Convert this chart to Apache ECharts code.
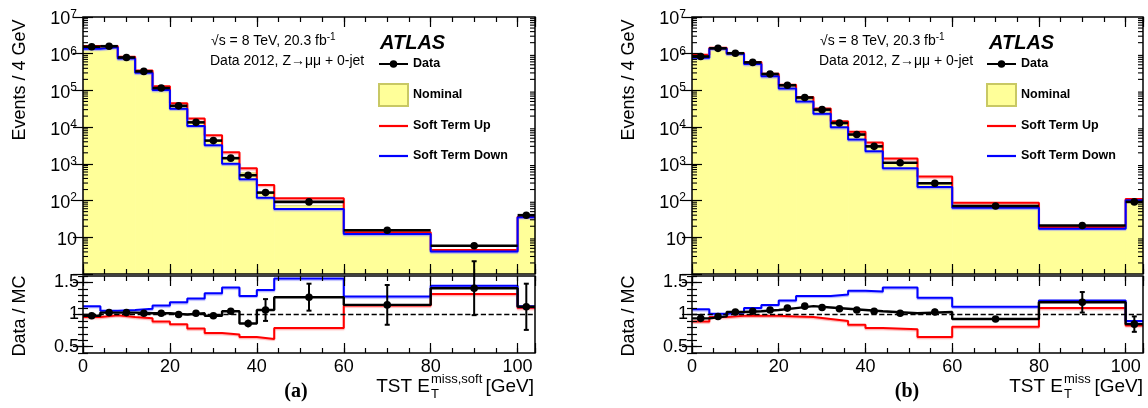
<!DOCTYPE html>
<html><head><meta charset="utf-8">
<script src="https://cdn.jsdelivr.net/npm/echarts@6/dist/echarts.min.js"></script>
<style>html,body{margin:0;padding:0;background:#fff}#c{width:1148px;height:408px}</style>
</head><body><div id="c"></div>
<script>
// ---------- data ----------
const edgesA = [0,4,8,12,16,20,24,28,32,36,40,44,60,80,100,104];
const dataA = [1.55e6,1.6e6,7.9e5,3.3e5,1.16e5,3.8e4,1.35e4,4.3e3,1.43e3,490,165,92,15.6,5.9,40];
const nominalA = [1.58e6,1.55e6,7.67e5,3.24e5,1.14e5,3.8e4,1.32e4,4.39e3,1.36e3,570,154,72.4,13.6,4.18,35.7];
const upA = [1.61e6,1.62e6,8.23e5,3.51e5,1.30e5,4.47e4,1.73e4,6.06e3,2.07e3,754,266,116,13.7,4.47,36.4];
const downA = [1.37e6,1.51e6,7.38e5,3.03e5,1.02e5,3.19e4,1.08e4,3.23e3,1.01e3,380,120,59,12.2,4.07,35.4];
const ratioNomA = [0.98,1.03,1.03,1.02,1.02,1.0,1.02,0.98,1.05,0.86,1.07,1.27,1.15,1.41,1.12];
const ratioUpA = [0.96,0.99,0.96,0.94,0.89,0.85,0.78,0.71,0.69,0.65,0.62,0.79,1.14,1.32,1.10];
const ratioDownA = [1.13,1.06,1.07,1.09,1.14,1.19,1.25,1.33,1.42,1.29,1.38,1.56,1.28,1.45,1.13];
const ratioErrA = [0.005,0.005,0.005,0.005,0.007,0.01,0.015,0.025,0.05,0.06,0.17,0.21,0.31,0.42,0.36];

const edgesB = [0,4,8,12,16,20,24,28,32,36,40,44,52,60,80,100,104];
const dataB = [8.4e5,1.4e6,1.03e6,5.8e5,2.8e5,1.38e5,6.4e4,3.0e4,1.3e4,6.3e3,3.0e3,1.07e3,295,71,21,92];
const nominalB = [8.94e5,1.44e6,9.9e5,5.52e5,2.62e5,1.25e5,5.66e4,2.70e4,1.19e4,5.89e3,2.86e3,1.05e3,284,76.3,17.6,108];
const upB = [9.44e5,1.46e6,1.05e6,5.92e5,2.86e5,1.42e5,6.67e4,3.23e4,1.44e4,7.5e3,3.8e3,1.39e3,454,87.7,19.1,111];
const downB = [7.78e5,1.39e6,1.0e6,5.27e5,2.43e5,1.13e5,4.96e4,2.33e4,9.92e3,4.6e3,2.2e3,754,234,63.4,17.2,102];
const ratioNomB = [0.94,0.97,1.04,1.05,1.07,1.10,1.13,1.11,1.09,1.07,1.05,1.02,1.04,0.93,1.19,0.85];
const ratioUpB = [0.89,0.96,0.98,0.98,0.98,0.97,0.96,0.93,0.90,0.84,0.79,0.77,0.65,0.81,1.10,0.83];
const ratioDownB = [1.08,1.01,1.03,1.10,1.15,1.22,1.29,1.29,1.31,1.37,1.36,1.42,1.26,1.12,1.22,0.90];
const ratioErrB = [0.004,0.004,0.004,0.004,0.005,0.006,0.008,0.01,0.012,0.015,0.02,0.02,0.05,0.04,0.16,0.12];

const xTickLabels = [0,20,40,60,80,100];
const ratioTickLabels = [0.5,1,1.5];
const logDecades = [0,1,2,3,4,5,6,7];

// ---------- helpers ----------
const FONT = 'Liberation Sans';
const xAxis = [], yAxis = [], series = [], grid = [];
const tickLS = {color:'#000', width:1.2};

function stepPoints(edges, vals){
  const pts = vals.map((v,i)=>[edges[i], v]);
  pts.push([edges[edges.length-1], vals[vals.length-1]]);
  return pts;
}
function addGrid(left, top, width, height){
  grid.push({left, top, width, height, show:true, borderColor:'#000', borderWidth:1.5, backgroundColor:'transparent', z:8});
  return grid.length-1;
}
function addX(g, showLabel){
  const base = xAxis.length;
  const mk = (pos, interval, len, label) => ({
    type:'value', gridIndex:g, min:0, max:104, interval, position:pos, z:9,
    axisLine:{show:false}, splitLine:{show:false},
    axisTick:{show:true, inside:true, length:len, lineStyle:tickLS},
    axisLabel: label ? {show:true, fontSize:18, fontFamily:FONT, color:'#000', margin:5,
      formatter: v => xTickLabels.indexOf(v) >= 0 ? String(v) : ''} : {show:false}
  });
  xAxis.push(mk('bottom',20,10,showLabel), mk('bottom',5,5,false), mk('top',20,10,false), mk('top',5,5,false));
  return base;
}
function addLogY(g){
  const base = yAxis.length;
  const mk = (pos, label) => ({
    type:'log', logBase:10, gridIndex:g, min:1, max:1e7, splitNumber:7, position:pos, z:9,
    axisLine:{show:false}, splitLine:{show:false},
    axisTick:{show:true, inside:true, length:10, lineStyle:tickLS},
    axisLabel: label ? {show:true, fontSize:18, fontFamily:FONT, color:'#000', margin:6, lineHeight:22, padding:[5,0,0,0],
      formatter: v => { const e = Math.round(Math.log10(v)); if (logDecades.indexOf(e) < 0 || e === 0) return ''; if (e === 1) return '10'; return '10{s|' + e + '}'; },
      rich:{s:{fontSize:12, fontFamily:FONT, color:'#000', verticalAlign:'top', lineHeight:12}}
    } : {show:false}
  });
  yAxis.push(mk('left',true), mk('right',false));
  return base;
}
function addRatioY(g){
  const base = yAxis.length;
  const mk = (pos, major, label) => ({
    type:'value', gridIndex:g, min:0.4, max:1.6, interval:0.1, position:pos, z:9,
    axisLine:{show:false}, splitLine:{show:false},
    axisTick: major ? {show:true, inside:true, length:10, customValues:ratioTickLabels, lineStyle:tickLS}
                    : {show:true, inside:true, length:5, lineStyle:tickLS},
    axisLabel: label ? {show:true, customValues:ratioTickLabels, fontSize:18, fontFamily:FONT, color:'#000', margin:4,
      formatter: v => { const r = Math.round(v*100)/100; return ratioTickLabels.indexOf(r) >= 0 ? String(r) : ''; }} : {show:false}
  });
  yAxis.push(mk('left',true,true), mk('left',false,false), mk('right',true,false), mk('right',false,false));
  return base;
}
const logMinor = [];
for (let e = 0; e < 7; e++) for (let k = 2; k <= 9; k++) logMinor.push(k*Math.pow(10,e));

function panel(P, left, width){
  const gT = addGrid(left, 17, width, 257);
  const gR = addGrid(left, 276, width, 77);
  const xT = addX(gT, false), yT = addLogY(gT);
  const xR = addX(gR, true), yR = addRatioY(gR);
  const binRows = vals => vals.map((v,i)=>[P.edges[i], P.edges[i+1], v]);

  // nominal filled histogram
  series.push({type:'custom', name:'Nominal', xAxisIndex:xT, yAxisIndex:yT, z:2, silent:true,
    itemStyle:{color:'#ffff99'}, data: binRows(P.nominal), encode:{x:[0,1], y:2},
    renderItem:(params, api) => {
      const p0 = api.coord([api.value(0), api.value(2)]);
      const p1 = api.coord([api.value(1), 1]);
      return {type:'rect', shape:{x:p0[0], y:p0[1], width:p1[0]-p0[0]+0.6, height:p1[1]-p0[1]}, style:{fill:'#ffff99'}};
    }});
  series.push({type:'line', name:'Nominal edge', xAxisIndex:xT, yAxisIndex:yT, z:3, step:'end', symbol:'none', silent:true,
    data: stepPoints(P.edges, P.nominal), lineStyle:{color:'#d2d27a', width:1}});
  series.push({type:'line', name:'Soft Term Up', xAxisIndex:xT, yAxisIndex:yT, z:4, step:'end', symbol:'none', silent:true,
    data: stepPoints(P.edges, P.up), itemStyle:{color:'#ff0000'},
    lineStyle:{color:'#ff0000', width:2, shadowColor:'rgba(255,140,140,0.7)', shadowBlur:1, shadowOffsetY:1.2}});
  series.push({type:'line', name:'Soft Term Down', xAxisIndex:xT, yAxisIndex:yT, z:4, step:'end', symbol:'none', silent:true,
    data: stepPoints(P.edges, P.down), itemStyle:{color:'#0000ff'},
    lineStyle:{color:'#0000ff', width:2, shadowColor:'rgba(140,140,255,0.7)', shadowBlur:1, shadowOffsetY:1.2}});
  series.push({type:'custom', name:'Data', xAxisIndex:xT, yAxisIndex:yT, z:5, silent:true, itemStyle:{color:'#000'},
    data: binRows(P.data), encode:{x:[0,1], y:2},
    renderItem:(params, api) => {
      const a = api.coord([api.value(0), api.value(2)]), b = api.coord([api.value(1), api.value(2)]);
      return {type:'group', children:[
        {type:'line', shape:{x1:a[0], y1:a[1], x2:b[0], y2:b[1]}, style:{stroke:'#000', lineWidth:2.6}},
        {type:'circle', shape:{cx:(a[0]+b[0])/2, cy:a[1], r:3.8}, style:{fill:'#000'}}
      ]};
    }});
  series.push({type:'custom', name:'log minor ticks', xAxisIndex:xT, yAxisIndex:yT, z:10, silent:true,
    data: logMinor.map(v=>[0, v]), encode:{x:0, y:1},
    renderItem:(params, api) => {
      const y = api.coord([0, api.value(1)])[1];
      const cs = params.coordSys;
      return {type:'group', children:[
        {type:'line', shape:{x1:cs.x, y1:y, x2:cs.x+5, y2:y}, style:{stroke:'#000', lineWidth:1.1}},
        {type:'line', shape:{x1:cs.x+cs.width-5, y1:y, x2:cs.x+cs.width, y2:y}, style:{stroke:'#000', lineWidth:1.1}}
      ]};
    }});

  // ratio panel
  series.push({type:'line', name:'Up / ratio', xAxisIndex:xR, yAxisIndex:yR, z:3, step:'end', symbol:'none', silent:true,
    data: stepPoints(P.edges, P.rUp),
    lineStyle:{color:'#ff0000', width:2, shadowColor:'rgba(255,140,140,0.7)', shadowBlur:1, shadowOffsetY:1.2}});
  series.push({type:'line', name:'Down / ratio', xAxisIndex:xR, yAxisIndex:yR, z:3, step:'end', symbol:'none', silent:true,
    data: stepPoints(P.edges, P.rDown),
    lineStyle:{color:'#0000ff', width:2, shadowColor:'rgba(140,140,255,0.7)', shadowBlur:1, shadowOffsetY:1.2}});
  series.push({type:'line', name:'Data / MC', xAxisIndex:xR, yAxisIndex:yR, z:4, step:'end', symbol:'none', silent:true,
    data: stepPoints(P.edges, P.rNom), lineStyle:{color:'#000', width:2.4},
    markLine:{silent:true, symbol:['none','none'], label:{show:false}, data:[{yAxis:1}],
      lineStyle:{color:'#000', type:'dashed', width:1.3}}});
  series.push({type:'custom', name:'Data / MC points', xAxisIndex:xR, yAxisIndex:yR, z:5, silent:true,
    data: P.rNom.map((r,i)=>[P.edges[i], P.edges[i+1], r, P.rErr[i]]), encode:{x:[0,1], y:2},
    renderItem:(params, api) => {
      const c = (api.value(0)+api.value(1))/2, r = api.value(2), e = api.value(3);
      const p = api.coord([c, r]), t = api.coord([c, r+e]), b = api.coord([c, r-e]);
      const ch = [{type:'line', shape:{x1:p[0], y1:t[1], x2:p[0], y2:b[1]}, style:{stroke:'#000', lineWidth:2}}];
      if (b[1]-t[1] > 8) {
        ch.push({type:'line', shape:{x1:p[0]-2.5, y1:t[1], x2:p[0]+2.5, y2:t[1]}, style:{stroke:'#000', lineWidth:2}});
        ch.push({type:'line', shape:{x1:p[0]-2.5, y1:b[1], x2:p[0]+2.5, y2:b[1]}, style:{stroke:'#000', lineWidth:2}});
      }
      ch.push({type:'circle', shape:{cx:p[0], cy:p[1], r:3.8}, style:{fill:'#000'}});
      return {type:'group', children:ch};
    }});
}

panel({edges:edgesA, data:dataA, nominal:nominalA, up:upA, down:downA, rNom:ratioNomA, rUp:ratioUpA, rDown:ratioDownA, rErr:ratioErrA}, 83, 452);
panel({edges:edgesB, data:dataB, nominal:nominalB, up:upB, down:downB, rNom:ratioNomB, rUp:ratioUpB, rDown:ratioDownB, rErr:ratioErrB}, 692, 451);

const lineIcon = 'path://M0,0h29v2.2h-29z';
const dataIcon = 'path://M0,3.2h28v1.8h-28zM10.4,4.1a3.6,3.6 0 1,1 7.2,0a3.6,3.6 0 1,1 -7.2,0z';
function legendFor(left){
  return {left, top:53, orient:'vertical', itemWidth:29, itemHeight:22, itemGap:8, selectedMode:false, padding:0,
    textStyle:{fontSize:12.5, fontWeight:'bold', fontFamily:FONT, color:'#000', lineHeight:22},
    data:[
      {name:'Data', icon:dataIcon, itemStyle:{color:'#000', borderWidth:0}},
      {name:'Nominal', icon:'rect', itemStyle:{color:'#ffff99', borderColor:'#c8c864', borderWidth:2}},
      {name:'Soft Term Up', icon:lineIcon, itemStyle:{color:'#ff0000', borderWidth:0}},
      {name:'Soft Term Down', icon:lineIcon, itemStyle:{color:'#0000ff', borderWidth:0}}
    ]};
}

function txt(x, y, text, font, align, extra){
  return Object.assign({type:'text', x, y, silent:true, z:20,
    style:Object.assign({text, font, fill:'#000', align:align||'left', textAlign:align||'left', verticalAlign:'middle', textVerticalAlign:'middle'}, (extra&&extra.style)||{})},
    extra&&extra.el ? extra.el : {});
}
const graphic = [];
[[0, 'TST E', 'miss,soft', 430], [609, 'TST E', 'miss', 1063]].forEach(([dx, main, sup, ex]) => {
  graphic.push(txt(20+dx, 80, 'Events / 4 GeV', '18px ' + FONT, 'center', {el:{rotation:Math.PI/2}}));
  graphic.push(txt(20+dx, 316, 'Data / MC', '18px ' + FONT, 'center', {el:{rotation:Math.PI/2}}));
  graphic.push(txt(211+dx, 41, '√s = 8 TeV, 20.3 fb{s|-1}', '14px ' + FONT, 'left',
    {style:{rich:{s:{fontSize:10, fontFamily:FONT, verticalAlign:'top', lineHeight:10}}, lineHeight:17}}));
  graphic.push(txt(210+dx, 61, 'Data 2012, Z\u2192\u03bc\u03bc + 0-jet', '14px ' + FONT, 'left'));
  graphic.push(txt(380+dx, 43, 'ATLAS', 'italic bold 20px ' + FONT, 'left'));
  graphic.push(txt(ex, 387, main, '19px ' + FONT, 'right'));
  graphic.push(txt(ex+1, 379, sup, '13px ' + FONT, 'left'));
  graphic.push(txt(ex+1, 394, 'T', '13px ' + FONT, 'left'));
  graphic.push(txt(534+dx, 387, '[GeV]', '19px ' + FONT, 'right'));
});
graphic.push(txt(296, 392, '(a)', 'bold 20px Liberation Serif', 'center'));
graphic.push(txt(907, 392, '(b)', 'bold 20px Liberation Serif', 'center'));

const chart = echarts.init(document.getElementById('c'), null, {renderer:'canvas'});
chart.setOption({
  animation:false, backgroundColor:'#fff',
  grid, xAxis, yAxis, series,
  legend:[legendFor(378), legendFor(986)],
  graphic
});
</script></body></html>
